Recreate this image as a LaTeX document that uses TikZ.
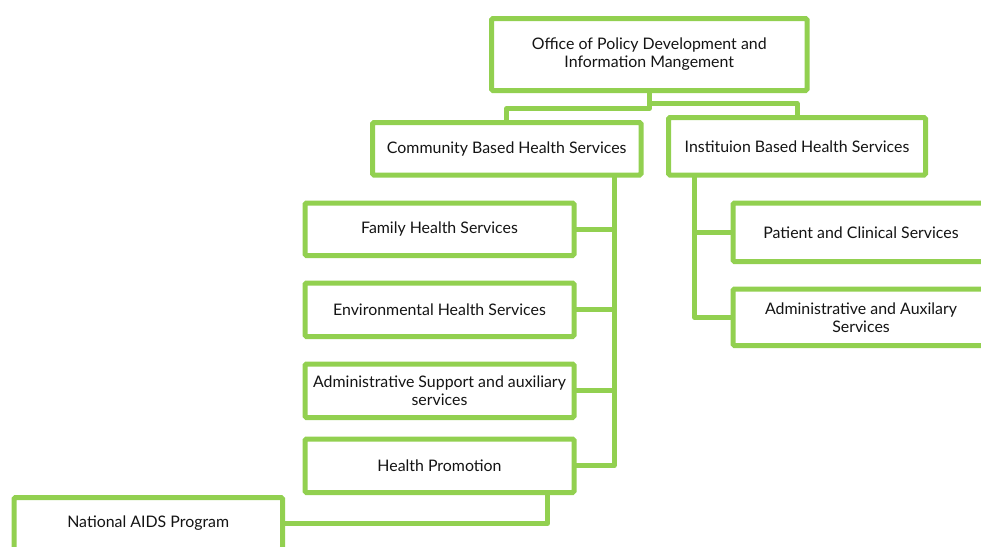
\documentclass[tikz,border=0pt]{standalone}
\usepackage{fontspec}
\setmainfont{Lato}
\definecolor{boxgreen}{HTML}{92D050}
\definecolor{txt}{HTML}{141414}
\tikzset{
  orgbox/.style={draw=boxgreen, line width=5pt, rounded corners=1.5pt, fill=white,
    inner sep=0pt, outer sep=0pt, align=center, text=txt,
    font=\fontsize{15.9}{18}\selectfont},
  conn/.style={draw=boxgreen, line width=5pt, line join=round}
}
\begin{document}
\begin{tikzpicture}[x=1pt,y=-1pt]
\useasboundingbox (0,0) rectangle (981,546);
\begin{scope}
\clip (0,0) rectangle (981,546);
\coordinate (cbus) at (614,0);
\coordinate (ibus) at (694.5,0);
\coordinate (hbus) at (547.5,0);

\node[orgbox, minimum width=315.5pt, minimum height=72pt] (top) at (649.25,54.5) {Office of Policy Development and\\Information Mangement};
\node[orgbox, minimum width=268.5pt, minimum height=52.5pt] (comm) at (506.75,148.75) {Community Based Health Services};
\node[orgbox, minimum width=257pt, minimum height=57.5pt] (inst) at (797,146.25) {Instituion Based Health Services};
\node[orgbox, minimum width=256pt, minimum height=58.5pt] (pat) at (861,232.25) {Patient and Clinical Services};
\node[orgbox, minimum width=256pt, minimum height=56.5pt] (aux) at (861,317.25) {Administrative and Auxilary\\Services};
\node[orgbox, minimum width=269pt, minimum height=52.5pt] (fam) at (439.5,229.25) {Family Health Services};
\node[orgbox, minimum width=269pt, minimum height=53.5pt] (env) at (439.5,309.75) {Environmental Health Services};
\node[orgbox, minimum width=269pt, minimum height=53.5pt] (sup) at (439.5,390.75) {Administrative Support and auxiliary\\services};
\node[orgbox, minimum width=269pt, minimum height=53.5pt] (hp) at (439.5,465.75) {Health Promotion};
\node[orgbox, minimum width=268.5pt, minimum height=52pt] (aids) at (148.25,523.5) {National AIDS Program};

\draw[conn] (top.south) -- ++(0,18) -| (comm.north);
\draw[conn] (top.south) -- ++(0,13) -| (inst.north);
\draw[conn] (comm.south -| cbus) |- (hp.east);
\draw[conn] (fam.east) -- (fam.east -| cbus);
\draw[conn] (env.east) -- (env.east -| cbus);
\draw[conn] (sup.east) -- (sup.east -| cbus);
\draw[conn] (inst.south -| ibus) |- (aux.west);
\draw[conn] (pat.west) -- (pat.west -| ibus);
\draw[conn] (hp.south -| hbus) |- (aids.east);
\end{scope}
\end{tikzpicture}
\end{document}
